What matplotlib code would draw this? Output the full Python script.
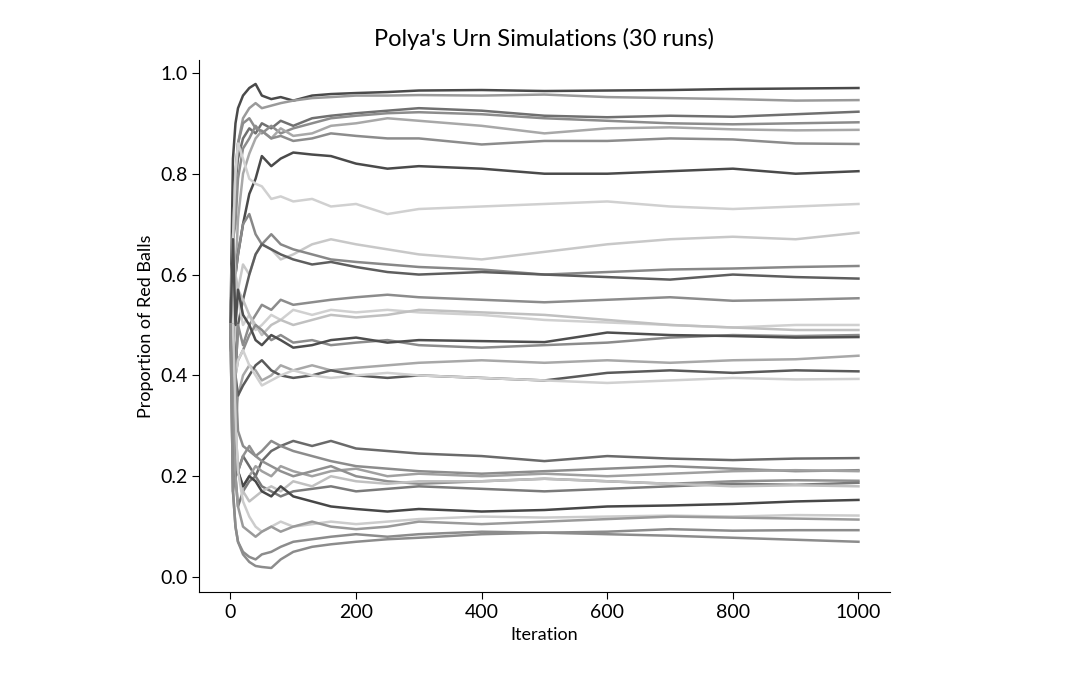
import matplotlib.pyplot as plt

plt.rcParams['font.family'] = ['Lato', 'DejaVu Sans']

# sampled iteration numbers (x positions of the values below)
iterations = [0, 4, 8, 12, 20, 30, 40, 50, 65, 80, 100, 130, 160, 200,
              250, 300, 400, 500, 600, 700, 800, 900, 1000]

# runs that settle high
upper_runs = [
    [0.5, 0.83, 0.90, 0.93, 0.955, 0.97, 0.978, 0.955, 0.948, 0.952, 0.945, 0.955, 0.958, 0.96, 0.962, 0.965, 0.966, 0.964, 0.965, 0.966, 0.968, 0.969, 0.970],
    [0.5, 0.67, 0.80, 0.86, 0.91, 0.93, 0.94, 0.93, 0.935, 0.94, 0.945, 0.95, 0.952, 0.955, 0.955, 0.956, 0.955, 0.957, 0.952, 0.95, 0.948, 0.945, 0.946],
    [0.5, 0.67, 0.78, 0.83, 0.87, 0.89, 0.88, 0.90, 0.89, 0.905, 0.895, 0.91, 0.915, 0.92, 0.925, 0.93, 0.925, 0.915, 0.912, 0.915, 0.913, 0.918, 0.923],
    [0.5, 0.67, 0.70, 0.79, 0.85, 0.87, 0.895, 0.88, 0.895, 0.88, 0.89, 0.90, 0.91, 0.915, 0.92, 0.922, 0.918, 0.91, 0.905, 0.90, 0.898, 0.90, 0.902],
    [0.5, 0.5, 0.6, 0.71, 0.80, 0.84, 0.87, 0.885, 0.87, 0.89, 0.875, 0.88, 0.895, 0.90, 0.91, 0.905, 0.895, 0.88, 0.89, 0.892, 0.888, 0.886, 0.887],
    [0.5, 0.67, 0.80, 0.86, 0.90, 0.91, 0.89, 0.885, 0.87, 0.875, 0.865, 0.87, 0.88, 0.875, 0.87, 0.87, 0.858, 0.865, 0.865, 0.87, 0.868, 0.86, 0.859],
    [0.5, 0.5, 0.6, 0.64, 0.70, 0.76, 0.79, 0.835, 0.815, 0.83, 0.842, 0.838, 0.835, 0.82, 0.81, 0.815, 0.81, 0.80, 0.80, 0.805, 0.81, 0.80, 0.805],
    [0.5, 0.67, 0.80, 0.86, 0.83, 0.79, 0.78, 0.775, 0.75, 0.755, 0.745, 0.75, 0.735, 0.74, 0.72, 0.73, 0.735, 0.74, 0.745, 0.735, 0.73, 0.735, 0.740],
    [0.5, 0.33, 0.5, 0.57, 0.62, 0.60, 0.64, 0.66, 0.65, 0.63, 0.64, 0.66, 0.67, 0.66, 0.65, 0.64, 0.63, 0.645, 0.66, 0.67, 0.675, 0.67, 0.683],
    [0.5, 0.67, 0.6, 0.64, 0.70, 0.72, 0.68, 0.66, 0.68, 0.66, 0.65, 0.64, 0.63, 0.625, 0.62, 0.615, 0.61, 0.60, 0.605, 0.61, 0.612, 0.615, 0.617],
    [0.5, 0.5, 0.4, 0.5, 0.55, 0.60, 0.64, 0.66, 0.65, 0.64, 0.63, 0.62, 0.625, 0.615, 0.605, 0.60, 0.605, 0.60, 0.595, 0.59, 0.60, 0.595, 0.592],
    [0.5, 0.33, 0.4, 0.5, 0.46, 0.50, 0.52, 0.54, 0.53, 0.55, 0.54, 0.545, 0.55, 0.555, 0.56, 0.555, 0.55, 0.545, 0.55, 0.555, 0.548, 0.55, 0.553],
]
upper_shades = ['#4a4a4a', '#9a9a9a', '#707070', '#8c8c8c', '#a8a8a8', '#8c8c8c',
                '#4a4a4a', '#d0d0d0', '#c8c8c8', '#888888', '#5e5e5e', '#8c8c8c']

# runs that settle near the middle
middle_runs = [
    [0.5, 0.5, 0.6, 0.55, 0.50, 0.52, 0.49, 0.50, 0.52, 0.51, 0.53, 0.52, 0.53, 0.525, 0.53, 0.525, 0.52, 0.51, 0.505, 0.50, 0.495, 0.50, 0.500],
    [0.5, 0.67, 0.6, 0.57, 0.55, 0.52, 0.50, 0.48, 0.50, 0.51, 0.50, 0.51, 0.52, 0.515, 0.52, 0.53, 0.525, 0.52, 0.51, 0.50, 0.495, 0.49, 0.490],
    [0.5, 0.33, 0.4, 0.43, 0.45, 0.48, 0.50, 0.49, 0.47, 0.48, 0.465, 0.47, 0.46, 0.465, 0.47, 0.46, 0.455, 0.46, 0.465, 0.475, 0.48, 0.478, 0.480],
    [0.5, 0.67, 0.5, 0.57, 0.52, 0.50, 0.47, 0.46, 0.48, 0.47, 0.455, 0.46, 0.47, 0.475, 0.465, 0.47, 0.468, 0.466, 0.485, 0.48, 0.478, 0.475, 0.476],
    [0.5, 0.33, 0.3, 0.36, 0.40, 0.42, 0.41, 0.39, 0.40, 0.42, 0.41, 0.42, 0.41, 0.415, 0.42, 0.425, 0.43, 0.425, 0.43, 0.425, 0.43, 0.432, 0.439],
    [0.5, 0.5, 0.4, 0.36, 0.38, 0.40, 0.42, 0.43, 0.41, 0.40, 0.395, 0.40, 0.41, 0.40, 0.395, 0.40, 0.395, 0.39, 0.405, 0.41, 0.405, 0.41, 0.408],
    [0.5, 0.33, 0.4, 0.43, 0.45, 0.42, 0.40, 0.38, 0.39, 0.40, 0.41, 0.40, 0.395, 0.40, 0.405, 0.40, 0.395, 0.39, 0.385, 0.39, 0.395, 0.392, 0.393],
]
middle_shades = ['#d0d0d0', '#c0c0c0', '#8c8c8c', '#4e4e4e', '#a8a8a8', '#5a5a5a', '#d0d0d0']

# runs that settle low
lower_runs = [
    [0.5, 0.33, 0.2, 0.21, 0.24, 0.22, 0.20, 0.23, 0.25, 0.26, 0.27, 0.26, 0.27, 0.255, 0.25, 0.245, 0.24, 0.23, 0.24, 0.235, 0.232, 0.235, 0.236],
    [0.5, 0.5, 0.4, 0.29, 0.26, 0.25, 0.24, 0.25, 0.27, 0.26, 0.25, 0.24, 0.23, 0.22, 0.215, 0.21, 0.205, 0.21, 0.215, 0.22, 0.215, 0.21, 0.212],
    [0.5, 0.33, 0.3, 0.21, 0.18, 0.20, 0.22, 0.21, 0.20, 0.22, 0.21, 0.20, 0.21, 0.215, 0.20, 0.205, 0.20, 0.205, 0.20, 0.205, 0.21, 0.212, 0.210],
    [0.5, 0.17, 0.2, 0.21, 0.24, 0.26, 0.24, 0.23, 0.22, 0.21, 0.20, 0.21, 0.22, 0.20, 0.19, 0.185, 0.19, 0.195, 0.19, 0.185, 0.19, 0.192, 0.191],
    [0.5, 0.33, 0.2, 0.14, 0.17, 0.19, 0.20, 0.18, 0.17, 0.16, 0.17, 0.175, 0.18, 0.17, 0.175, 0.18, 0.175, 0.17, 0.175, 0.18, 0.185, 0.183, 0.187],
    [0.5, 0.5, 0.3, 0.21, 0.17, 0.15, 0.16, 0.17, 0.18, 0.17, 0.19, 0.18, 0.20, 0.19, 0.185, 0.19, 0.19, 0.195, 0.19, 0.185, 0.18, 0.182, 0.180],
    [0.5, 0.33, 0.2, 0.21, 0.18, 0.20, 0.19, 0.17, 0.16, 0.18, 0.16, 0.15, 0.14, 0.135, 0.13, 0.135, 0.13, 0.133, 0.14, 0.142, 0.145, 0.15, 0.153],
    [0.5, 0.5, 0.3, 0.21, 0.15, 0.12, 0.10, 0.09, 0.10, 0.11, 0.10, 0.105, 0.11, 0.105, 0.11, 0.115, 0.12, 0.118, 0.12, 0.122, 0.12, 0.123, 0.122],
    [0.5, 0.33, 0.2, 0.14, 0.10, 0.09, 0.08, 0.09, 0.10, 0.09, 0.10, 0.11, 0.10, 0.095, 0.10, 0.11, 0.105, 0.11, 0.115, 0.12, 0.118, 0.116, 0.114],
    [0.5, 0.17, 0.1, 0.07, 0.05, 0.04, 0.035, 0.045, 0.05, 0.06, 0.07, 0.075, 0.08, 0.085, 0.08, 0.085, 0.09, 0.088, 0.09, 0.095, 0.092, 0.093, 0.093],
    [0.5, 0.17, 0.1, 0.07, 0.045, 0.03, 0.022, 0.02, 0.018, 0.035, 0.05, 0.06, 0.065, 0.07, 0.075, 0.078, 0.085, 0.088, 0.085, 0.082, 0.078, 0.074, 0.070],
]
lower_shades = ['#6a6a6a', '#8c8c8c', '#a0a0a0', '#909090', '#7a7a7a', '#c0c0c0',
                '#474747', '#cccccc', '#9a9a9a', '#8c8c8c', '#8c8c8c']

fig = plt.figure(figsize=(10.76, 6.87), dpi=100)
ax = fig.add_axes([0.185, 0.138, 0.642, 0.775])

for runs, shades in [(upper_runs, upper_shades), (middle_runs, middle_shades),
                     (lower_runs, lower_shades)]:
    for run, shade in zip(runs, shades):
        ax.plot(iterations, run, color=shade, lw=1.8)

ax.set_title("Polya's Urn Simulations (30 runs)", fontsize=17, pad=10)
ax.set_xlabel('Iteration', fontsize=13)
ax.set_ylabel('Proportion of Red Balls', fontsize=13)
ax.set_xticks([0, 200, 400, 600, 800, 1000])
ax.set_yticks([0.0, 0.2, 0.4, 0.6, 0.8, 1.0])
ax.tick_params(labelsize=14, length=5)
ax.spines['top'].set_visible(False)
ax.spines['right'].set_visible(False)

fig.savefig('out.png', dpi=100)
